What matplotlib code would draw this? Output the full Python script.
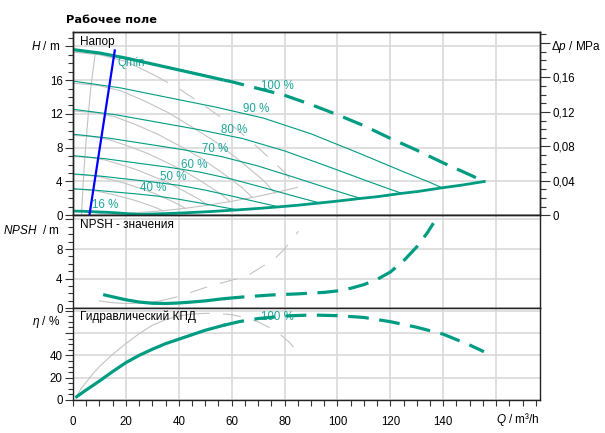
import matplotlib
matplotlib.use('Agg')
import matplotlib.pyplot as plt
from matplotlib.ticker import MultipleLocator, FixedLocator, FixedFormatter

plt.rcParams['font.family'] = ['Liberation Sans', 'DejaVu Sans']
plt.rcParams['mathtext.fontset'] = 'custom'
plt.rcParams['mathtext.rm'] = 'Liberation Sans'
plt.rcParams['mathtext.it'] = 'Liberation Sans:italic'

TEAL = '#009c82'
LABEL_TEAL = '#1aa69a'
GREY = '#c3c3c3'
GRID = '#d9d9d9'

# ---------------- data: head (teal pump) ----------------
q_h100 = [0, 10, 20, 30, 40, 50, 57, 60, 70, 80, 90, 100, 110, 120, 130, 140, 150, 155.5]
h_h100 = [19.6, 19.2, 18.6, 17.9, 17.2, 16.5, 16.0, 15.8, 15.0, 14.2, 13.1, 11.9, 10.6, 9.1, 7.7, 6.2, 4.8, 4.0]
h100_solid_to = 57

q_h90 = [0, 18, 36, 54, 72, 90, 108, 126, 135, 139.5]
h_h90 = [15.88, 15.07, 13.93, 12.80, 11.50, 9.64, 7.37, 5.02, 3.89, 3.25]
q_h80 = [0, 16, 32, 48, 64, 80, 96, 112, 120, 124.4]
h_h80 = [12.54, 11.90, 11.01, 10.11, 9.09, 7.62, 5.82, 3.97, 3.07, 2.60]
q_h70 = [0, 14, 28, 42, 56, 70, 84, 98, 105, 108.9]
h_h70 = [9.60, 9.11, 8.43, 7.74, 6.96, 5.83, 4.46, 3.04, 2.35, 2.0]
q_h60 = [0, 12, 24, 36, 48, 60, 72, 84, 90, 93.3]
h_h60 = [7.06, 6.70, 6.19, 5.69, 5.11, 4.28, 3.28, 2.23, 1.73, 1.46]
q_h50 = [0, 10, 20, 30, 40, 50, 60, 70, 75, 77.8]
h_h50 = [4.90, 4.65, 4.30, 3.95, 3.55, 2.98, 2.28, 1.55, 1.20, 1.0]
q_h40 = [0, 8, 16, 24, 32, 40, 48, 56, 60, 62.2]
h_h40 = [3.14, 2.98, 2.75, 2.53, 2.27, 1.90, 1.46, 0.99, 0.77, 0.64]

q_end = [0, 3.2, 6.4, 9.6, 12.8, 16, 19.2, 22.4, 24.9, 30, 40, 50, 62.2, 70, 77.8, 85,
         93.3, 100, 108.9, 115, 124.4, 130, 139.5, 147, 155.5]
h_end = [0.50, 0.48, 0.44, 0.40, 0.36, 0.30, 0.23, 0.16, 0.11, 0.15, 0.26, 0.41, 0.64, 0.81, 1.0, 1.19,
         1.46, 1.68, 2.0, 2.2, 2.6, 2.8, 3.25, 3.57, 4.0]

q_qmin = [6.2, 15.8]
h_qmin = [0, 19.5]

speed_labels = ['100 %', '90 %', '80 %', '70 %', '60 %', '50 %', '40 %', '16 %']
speed_label_q = [77.2, 69.3, 61.1, 53.6, 46.0, 37.9, 30.3, 12.1]
speed_label_h = [15.3, 12.6, 10.1, 7.9, 6.0, 4.5, 3.2, 1.2]

# ---------------- data: head (grey comparison pump) ----------------
q_g100 = [0, 10, 20, 30, 40, 50, 60, 70, 80, 84.8]
h_g100 = [19.3, 19.0, 18.2, 16.7, 15.0, 12.9, 10.7, 8.0, 5.1, 3.3]
g100_solid_to = 30
q_g90 = [0, 9, 18, 27, 36, 45, 54, 63, 72, 76.3]
h_g90 = [15.63, 15.39, 14.74, 13.53, 12.15, 10.45, 8.67, 6.48, 4.13, 2.67]
q_g80 = [0, 8, 16, 24, 32, 40, 48, 56, 64, 67.8]
h_g80 = [12.35, 12.16, 11.65, 10.69, 9.60, 8.26, 6.85, 5.12, 3.26, 2.11]
q_g70 = [0, 7, 14, 21, 28, 35, 42, 49, 56, 59.4]
h_g70 = [9.46, 9.31, 8.92, 8.18, 7.35, 6.32, 5.24, 3.92, 2.50, 1.62]
q_g60 = [0, 6, 12, 18, 24, 30, 36, 42, 48, 50.9]
h_g60 = [6.95, 6.84, 6.55, 6.01, 5.40, 4.64, 3.85, 2.88, 1.84, 1.19]
q_g50 = [0, 5, 10, 15, 20, 25, 30, 35, 40, 42.4]
h_g50 = [4.83, 4.75, 4.55, 4.18, 3.75, 3.23, 2.68, 2.00, 1.28, 0.83]
q_g40 = [0, 4, 8, 12, 16, 20, 24, 28, 32, 33.9]
h_g40 = [3.09, 3.04, 2.91, 2.67, 2.40, 2.06, 1.71, 1.28, 0.82, 0.53]
q_g16 = [0, 1.6, 3.2, 4.8, 6.4, 8, 9.6, 11.2, 12.8, 13.6]
h_g16 = [0.49, 0.49, 0.47, 0.43, 0.38, 0.33, 0.27, 0.20, 0.13, 0.08]
q_gend = [13.6, 33.9, 42.4, 50.9, 59.4, 67.8, 76.3, 84.8]
h_gend = [0.08, 0.53, 0.83, 1.19, 1.62, 2.11, 2.67, 3.3]
q_gqmin = [3.2, 3.7, 4.3, 5.0, 5.8, 6.7, 7.5, 8.4]
h_gqmin = [0, 3, 6, 9, 12, 15, 17, 19.1]

# ---------------- data: NPSH ----------------
q_npsh = [12, 15, 20, 25, 30, 35, 40, 45, 50, 57, 65, 75, 85, 95, 100, 105, 110, 115, 120, 125, 130, 134, 136.3]
v_npsh = [1.8, 1.55, 1.15, 0.85, 0.68, 0.65, 0.72, 0.85, 1.0, 1.3, 1.55, 1.8, 1.95, 2.15, 2.35, 2.7, 3.2, 3.9, 4.9, 6.4, 8.3, 10.2, 11.5]
npsh_solid_to = 57
q_gnpsh = [10, 15, 20, 25, 30, 33, 40, 45, 50, 55, 60, 66, 70, 76, 80, 85.2]
v_gnpsh = [1.0, 0.75, 0.65, 0.7, 0.85, 1.0, 1.6, 2.2, 2.8, 3.3, 3.8, 4.4, 5.3, 6.6, 8.0, 10.4]
gnpsh_solid_to = 33

# ---------------- data: efficiency ----------------
q_eta = [1.4, 5, 10, 15, 20, 25, 30, 35, 40, 45, 50, 57, 63, 70, 80, 90, 100, 110, 120, 130, 140, 150, 155.4]
v_eta = [3, 9, 17, 25.5, 33.5, 40, 45.5, 50.5, 54.5, 58.5, 62.5, 67, 70.3, 73, 75.3, 76.2, 75.6, 74, 70.2, 65.2, 59, 49.3, 43.3]
eta_solid_to = 57
q_geta = [1, 3, 5, 7.7, 10, 15, 20, 25, 30, 35, 40, 45, 50, 55, 60, 65, 70, 77, 82, 85.2]
v_geta = [2, 10, 16, 24, 30, 41, 50.5, 59.5, 67, 72, 75.3, 77, 77.7, 77.5, 76.5, 74, 70, 61.7, 51.3, 42]
geta_solid_to = 45

# ---------------- figure ----------------
W, H = 605, 433
fig = plt.figure(figsize=(W / 100, H / 100), dpi=100)


def rect(x0, y0, x1, y1):
    return [x0 / W, 1 - y1 / H, (x1 - x0) / W, (y1 - y0) / H]


def ftext(x, y, s, **kw):
    fig.text(x / W, 1 - y / H, s, **kw)


XL, XR = 73, 540
ax1 = fig.add_axes(rect(XL, 32.3, XR, 215.3))
ax2 = fig.add_axes(rect(XL, 215.3, XR, 308.3))
ax3 = fig.add_axes(rect(XL, 308.3, XR, 400))

QMAX = 176.6
for ax in (ax1, ax2, ax3):
    ax.set_xlim(0, QMAX)
    ax.xaxis.set_major_locator(MultipleLocator(20))
    ax.xaxis.set_minor_locator(MultipleLocator(5))
    ax.grid(True, which='major', color=GRID, lw=1.2)
    ax.set_axisbelow(True)
    for sp in ax.spines.values():
        sp.set_color('#222222')
        sp.set_linewidth(1.0)
    ax.tick_params(axis='y', which='major', direction='out', length=5.5, width=0.8,
                   color='#333333', labelsize=8.3, pad=2)
    ax.tick_params(axis='y', which='minor', direction='out', length=3.8, width=0.8, color='#333333')

for ax in (ax1, ax2):
    ax.tick_params(axis='x', which='both', length=0, labelbottom=False)

ax3.tick_params(axis='x', which='major', direction='out', length=4.5, width=0.8,
                color='#333333', labelsize=8.3, pad=7)
ax3.tick_params(axis='x', which='minor', direction='out', length=4.5, width=0.8, color='#333333')

# y axes
HMAX = 21.65
ax1.set_ylim(0, HMAX)
ax1.yaxis.set_major_locator(FixedLocator([0, 4, 8, 12, 16, 20]))
ax1.yaxis.set_major_formatter(FixedFormatter(['0', '4', '8', '12', '16', '']))
ax1.yaxis.set_minor_locator(MultipleLocator(1))

ax2.set_ylim(0, 12.56)
ax2.yaxis.set_major_locator(FixedLocator([0, 4, 8, 12]))
ax2.yaxis.set_major_formatter(FixedFormatter(['0', '4', '8', '']))
ax2.yaxis.set_minor_locator(MultipleLocator(1))

ax3.set_ylim(0, 82.2)
ax3.yaxis.set_major_locator(FixedLocator([0, 20, 40, 60, 80]))
ax3.yaxis.set_major_formatter(FixedFormatter(['0', '20', '40', '', '']))
ax3.yaxis.set_minor_locator(MultipleLocator(5))
xt = [0, 20, 40, 60, 80, 100, 120, 140, 160]
ax3.xaxis.set_major_locator(FixedLocator(xt))
ax3.xaxis.set_major_formatter(FixedFormatter(['0', '20', '40', '60', '80', '100', '120', '140', '']))

# right delta-p axis
axr = ax1.twinx()
axr.set_ylim(0, HMAX * 0.00981)
axr.yaxis.set_major_locator(FixedLocator([0, 0.04, 0.08, 0.12, 0.16, 0.20]))
axr.yaxis.set_major_formatter(FixedFormatter(['0', '0,04', '0,08', '0,12', '0,16', '']))
axr.yaxis.set_minor_locator(MultipleLocator(0.01))
axr.tick_params(axis='y', which='major', direction='out', length=7, width=0.8,
                color='#333333', labelsize=8.3, pad=2)
axr.tick_params(axis='y', which='minor', direction='out', length=4.5, width=0.8, color='#333333')
for sp in axr.spines.values():
    sp.set_color('#222222')
    sp.set_linewidth(1.0)

# ---------------- draw: head ----------------
THICK = 2.3
THIN = 0.8
DASH = (0, (6.5, 3.3))
GDASH = (0, (16, 12))


def split(q, v, q_split):
    i = q.index(q_split)
    return (q[:i + 1], v[:i + 1]), (q[i:], v[i:])


grey_sets = [(q_g90, h_g90), (q_g80, h_g80), (q_g70, h_g70), (q_g60, h_g60),
             (q_g50, h_g50), (q_g40, h_g40), (q_g16, h_g16), (q_gend, h_gend), (q_gqmin, h_gqmin)]
for q, h in grey_sets:
    ax1.plot(q, h, color=GREY, lw=THIN, zorder=2)
(s_q, s_h), (d_q, d_h) = split(q_g100, h_g100, g100_solid_to)
ax1.plot(s_q, s_h, color=GREY, lw=THIN, zorder=2)
ax1.plot(d_q, d_h, color=GREY, lw=THIN, ls=GDASH, zorder=2)

for q, h in [(q_h90, h_h90), (q_h80, h_h80), (q_h70, h_h70), (q_h60, h_h60),
             (q_h50, h_h50), (q_h40, h_h40)]:
    ax1.plot(q, h, color=TEAL, lw=THIN, zorder=3)
(s_q, s_h), (d_q, d_h) = split(q_h100, h_h100, h100_solid_to)
ax1.plot(s_q, s_h, color=TEAL, lw=THICK, zorder=4, solid_capstyle='butt')
ax1.plot(d_q, d_h, color=TEAL, lw=THICK, ls=DASH, zorder=4)
ax1.plot(q_end, h_end, color=TEAL, lw=2.0, zorder=4)
ax1.plot(q_qmin, h_qmin, color='#0000ff', lw=1.6, zorder=5)

for s, q, h in zip(speed_labels, speed_label_q, speed_label_h):
    ax1.text(q, h, s, color=LABEL_TEAL, fontsize=8.3, ha='center', va='center', zorder=3)
ax1.text(16.9, 18.0, 'Qmin', color=LABEL_TEAL, fontsize=8.3, ha='left', va='center', zorder=3)

# ---------------- draw: NPSH ----------------
(s_q, s_v), (d_q, d_v) = split(q_gnpsh, v_gnpsh, gnpsh_solid_to)
ax2.plot(s_q, s_v, color=GREY, lw=THIN, zorder=2)
ax2.plot(d_q, d_v, color=GREY, lw=THIN, ls=GDASH, zorder=2)
(s_q, s_v), (d_q, d_v) = split(q_npsh, v_npsh, npsh_solid_to)
ax2.plot(s_q, s_v, color=TEAL, lw=THICK, zorder=4)
ax2.plot(d_q, d_v, color=TEAL, lw=THICK, ls=DASH, zorder=4)

# ---------------- draw: efficiency ----------------
(s_q, s_v), (d_q, d_v) = split(q_geta, v_geta, geta_solid_to)
ax3.plot(s_q, s_v, color=GREY, lw=THIN, zorder=2)
ax3.plot(d_q, d_v, color=GREY, lw=THIN, ls=GDASH, zorder=2)
(s_q, s_v), (d_q, d_v) = split(q_eta, v_eta, eta_solid_to)
ax3.plot(s_q, s_v, color=TEAL, lw=THICK, zorder=4)
ax3.plot(d_q, d_v, color=TEAL, lw=THICK, ls=DASH, zorder=4)
ax3.text(77.2, 74.0, '100 %', color=LABEL_TEAL, fontsize=8.3, ha='center', va='center', zorder=3)

# ---------------- texts ----------------
ftext(66, 20, 'Рабочее поле', fontsize=8.2, fontweight='bold', family='DejaVu Sans',
      ha='left', va='center')
ftext(80, 42, 'Напор', fontsize=8.5, ha='left', va='center')
ftext(80, 225, 'NPSH - значения', fontsize=8.5, ha='left', va='center')
ftext(80, 317, 'Гидравлический КПД', fontsize=8.5, ha='left', va='center')

ftext(60, 47, r'$\mathit{H}$ / m', fontsize=8.5, ha='right', va='center')
ftext(551, 47, r'$\mathit{Δp}$ / MPa', fontsize=8.5, ha='left', va='center')
ftext(60, 231, r'$\mathit{NPSH}$  / m', fontsize=8.5, ha='right', va='center')
ftext(60, 322.5, r'$\mathit{η}$ / %', fontsize=8.5, ha='right', va='center')
ftext(540, 420, r'$\mathit{Q}$ / m³/h', fontsize=8.5, ha='right', va='center')

fig.savefig('out.png', dpi=100)
